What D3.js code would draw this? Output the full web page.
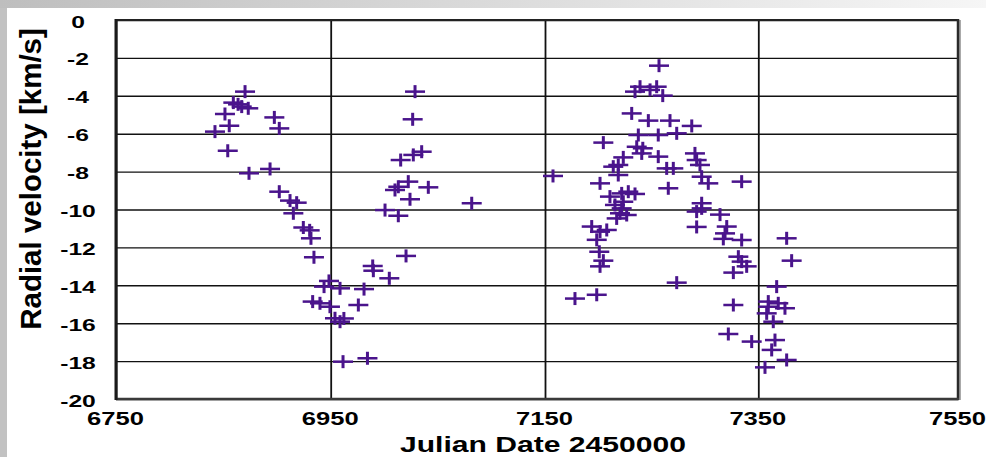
<!DOCTYPE html>
<html>
<head>
<meta charset="utf-8">
<script src="https://cdn.jsdelivr.net/npm/d3@7"></script>
<style>
  html, body { margin: 0; padding: 0; background: #c2c2c2; }
  svg { display: block; }
</style>
</head>
<body>
<svg id="chart" width="986" height="457"></svg>
<script>
// Julian Date offsets (JD - 2450000) of each radial-velocity measurement
const julianDates = [
  6870.2, 6859.3, 6867.1, 6873.2, 6863.7, 6851.5, 6855.5, 6842.2, 6854.1, 6897.5,
  6902.1, 6873.9, 6893.5, 6902.1, 6912.1, 6918.3, 6915.2, 6924.5, 6930.4, 6931.6,
  6934.4, 6948.4, 6943.8, 6958.7, 6981.1, 6933.2, 6940.0, 6949.3, 6975.8, 6954.0,
  6958.7, 6962.3, 6961.5, 6984.3, 6989.2, 6989.8, 7004.7, 7020.3, 7028.7, 7026.5,
  7034.9, 7027.1, 7015.3, 7022.4, 7010.0, 7013.1, 7041.1, 7024.0, 7081.6, 7000.7,
  7013.1,
  7157.5, 7256.9, 7239.1, 7234.4, 7248.5, 7254.7, 7260.4, 7231.3, 7246.9, 7267.2,
  7287.6, 7237.5, 7256.2, 7273.5, 7204.7, 7236.0, 7241.7, 7240.7, 7256.2, 7290.6,
  7292.2, 7223.4, 7218.7, 7214.0, 7264.1, 7270.3, 7295.3, 7218.7, 7296.9, 7303.1,
  7201.6, 7265.6, 7334.4, 7221.9, 7228.1, 7234.4, 7210.9, 7223.4, 7215.6, 7221.9,
  7220.3, 7226.6, 7217.2, 7296.9, 7296.9, 7292.2, 7314.1, 7292.2, 7320.4, 7318.8,
  7317.2, 7334.4, 7378.4, 7193.8, 7201.6, 7207.9, 7198.5, 7200.9, 7204.7, 7201.6,
  7273.5, 7178.1, 7198.5, 7331.3, 7334.4, 7339.1, 7326.6, 7383.4, 7368.4, 7326.6,
  7360.0, 7360.0, 7370.0, 7376.7, 7358.4, 7365.0, 7321.9, 7343.8, 7366.7, 7363.4,
  7378.4, 7356.7
];

// Radial velocity in km/s, same order as julianDates
const radialVelocities = [
  -3.78, -4.36, -4.57, -4.66, -4.45, -4.96, -5.58, -5.89, -6.90, -5.14,
  -5.72, -8.09, -7.86, -9.06, -9.53, -9.64, -10.20, -10.95, -11.10, -11.52,
  -12.52, -13.77, -14.07, -14.16, -14.20, -14.86, -14.95, -15.13, -15.04, -15.74,
  -15.92, -15.75, -18.03, -17.85, -12.98, -13.23, -13.63, -12.45, -3.78, -5.24,
  -6.95, -7.12, -7.39, -8.53, -8.97, -8.80, -8.83, -9.46, -9.67, -10.03,
  -10.33,
  -8.23, -2.41, -3.52, -3.78, -3.69, -3.52, -3.99, -4.93, -5.31, -5.31,
  -5.59, -6.07, -6.07, -5.98, -6.47, -6.69, -6.77, -7.04, -7.21, -7.04,
  -7.39, -7.25, -7.65, -7.74, -7.83, -7.83, -7.65, -8.18, -8.27, -8.62,
  -8.62, -8.88, -8.53, -9.15, -9.06, -9.18, -9.32, -9.59, -9.76, -9.94,
  -10.20, -10.29, -10.47, -9.67, -9.94, -10.11, -10.27, -10.92, -10.90, -11.26,
  -11.55, -11.61, -11.52, -10.90, -11.17, -11.08, -11.60, -12.23, -12.70, -13.00,
  -13.86, -14.70, -14.50, -12.49, -12.75, -13.00, -13.33, -12.70, -14.07, -15.04,
  -14.86, -15.13, -14.95, -15.21, -15.48, -15.92, -16.57, -16.97, -16.89, -17.41,
  -17.94, -18.33
];

const xTickValues = [6750, 6950, 7150, 7350, 7550];
const yTickValues = [0, -2, -4, -6, -8, -10, -12, -14, -16, -18, -20];
const xTitle = "Julian Date 2450000";
const yTitle = "Radial velocity [km/s]";

const W = 986, H = 457;
const plot = { left: 116, right: 958, top: 20, bottom: 399 };
// pixel position of each x gridline (the last panel of the plot is a little narrower)
const xGridPx = [116, 330.7, 545, 758.3, 958];
const markColor = "#4a148c";
const fontFamily = "'Liberation Sans', Arial, Helvetica, sans-serif";
const fmt = d => String(d);

const svg = d3.select("#chart");

// slide background: grey frame fading to near-white along the top
const defs = svg.append("defs");
const grad = defs.append("linearGradient").attr("id", "topFade")
  .attr("x1", "0%").attr("x2", "100%").attr("y1", "0%").attr("y2", "0%");
grad.append("stop").attr("offset", "0%").attr("stop-color", "#bebebe");
grad.append("stop").attr("offset", "45%").attr("stop-color", "#d8d8d8");
grad.append("stop").attr("offset", "100%").attr("stop-color", "#f6f6f6");

svg.append("rect").attr("width", W).attr("height", H).attr("fill", "#c2c2c2");
svg.append("rect").attr("width", W).attr("height", 8).attr("fill", "url(#topFade)");
svg.append("rect").attr("x", 7).attr("y", 8).attr("width", W - 7).attr("height", H - 8).attr("fill", "#ffffff");

const x = d3.scaleLinear().domain(xTickValues).range(xGridPx);
const y = d3.scaleLinear().domain([0, -20]).range([plot.top, plot.bottom]);

// horizontal gridlines
svg.append("g")
  .attr("transform", `translate(${plot.left},0)`)
  .call(d3.axisLeft(y).tickValues(yTickValues).tickSize(-(plot.right - plot.left)).tickFormat(""))
  .call(g => g.select(".domain").remove())
  .call(g => g.selectAll(".tick line").attr("stroke", "#111").attr("stroke-width", 1.4));

// vertical gridlines
svg.append("g")
  .attr("transform", `translate(0,${plot.bottom})`)
  .call(d3.axisBottom(x).tickValues(xTickValues).tickSize(-(plot.bottom - plot.top)).tickFormat(""))
  .call(g => g.select(".domain").remove())
  .call(g => g.selectAll(".tick line").attr("stroke", "#111").attr("stroke-width", 1.8));

// plot frame
const frame = svg.append("g");
frame.append("line").attr("x1", plot.right + 2).attr("x2", plot.right + 2)
  .attr("y1", plot.top).attr("y2", plot.bottom + 1).attr("stroke", "#aaa").attr("stroke-width", 2);
frame.append("line").attr("x1", plot.left).attr("x2", plot.right)
  .attr("y1", plot.top).attr("y2", plot.top).attr("stroke", "#222").attr("stroke-width", 2);
frame.append("line").attr("x1", plot.right).attr("x2", plot.right)
  .attr("y1", plot.top - 1).attr("y2", plot.bottom + 1).attr("stroke", "#2a2a2a").attr("stroke-width", 2.5);
frame.append("line").attr("x1", plot.left).attr("x2", plot.right + 1)
  .attr("y1", plot.bottom).attr("y2", plot.bottom).attr("stroke", "#3a3a3a").attr("stroke-width", 2.5);
frame.append("line").attr("x1", plot.left).attr("x2", plot.left)
  .attr("y1", plot.top - 1).attr("y2", plot.bottom + 1).attr("stroke", "#1a1a1a").attr("stroke-width", 3);

// y tick labels (bold, wide)
svg.append("g")
  .attr("transform", `translate(${plot.left},0)`)
  .call(d3.axisLeft(y).tickValues(yTickValues).tickSize(0).tickPadding(0).tickFormat(fmt))
  .call(g => g.select(".domain").remove())
  .call(g => g.selectAll(".tick text")
    .attr("x", 0).attr("dy", null).attr("y", 0)
    .attr("text-anchor", "middle")
    .attr("transform", "translate(-38,7) scale(1.45,1)")
    .attr("fill", "#000")
    .style("font-family", fontFamily).style("font-weight", "bold").style("font-size", "17px"));

// x tick labels
svg.append("g")
  .attr("transform", `translate(0,${plot.bottom})`)
  .call(d3.axisBottom(x).tickValues(xTickValues).tickSize(0).tickPadding(0).tickFormat(fmt))
  .call(g => g.select(".domain").remove())
  .call(g => g.selectAll(".tick text")
    .attr("x", 0).attr("dy", null).attr("y", 0)
    .attr("text-anchor", "middle")
    .attr("transform", "translate(-1,26) scale(1.42,1)")
    .attr("fill", "#000")
    .style("font-family", fontFamily).style("font-weight", "bold").style("font-size", "18px"));

// axis titles
svg.append("text")
  .attr("transform", "translate(543,452) scale(1.4,1)")
  .attr("text-anchor", "middle")
  .style("font-family", fontFamily).style("font-weight", "bold").style("font-size", "21.5px")
  .attr("fill", "#000")
  .text(xTitle);

svg.append("text")
  .attr("transform", "translate(41,179) rotate(-90)")
  .attr("text-anchor", "middle")
  .style("font-family", fontFamily).style("font-weight", "bold").style("font-size", "29.5px")
  .attr("fill", "#000")
  .text(yTitle);

// measurement markers: plus signs
const points = julianDates.map((d, i) => ({ jd: d, rv: radialVelocities[i] }));
const marks = svg.append("g").attr("fill", markColor);
const plus = marks.selectAll("g.pt").data(points).join("g")
  .attr("class", "pt")
  .attr("transform", d => `translate(${x(d.jd)},${y(d.rv)})`);
plus.append("rect").attr("x", -10).attr("y", -1.25).attr("width", 20).attr("height", 2.5);
plus.append("rect").attr("x", -1.5).attr("y", -6.5).attr("width", 3).attr("height", 13);
</script>
</body>
</html>
